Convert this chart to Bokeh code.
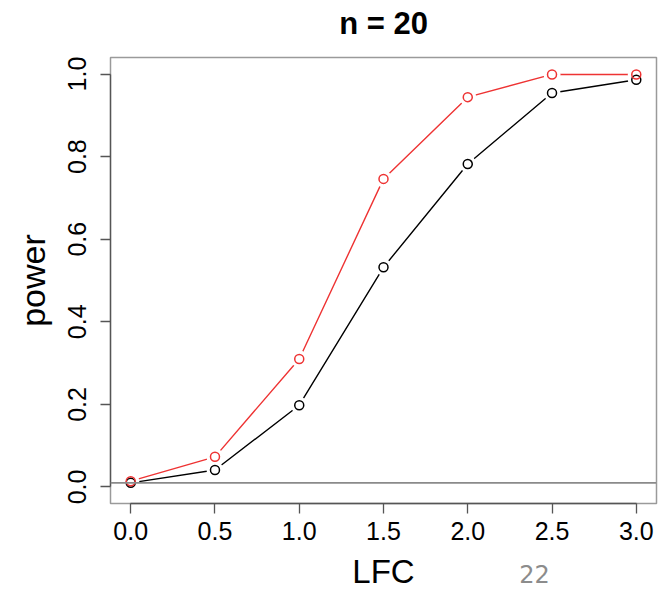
from bokeh.plotting import figure
from bokeh.layouts import column
from bokeh.models import Range1d, FixedTicker, Label, Span, LinearAxis
from bokeh.embed import file_html
from bokeh.resources import INLINE

# ---- data ----
lfc = [0.0, 0.5, 1.0, 1.5, 2.0, 2.5, 3.0]
power_red = [0.014, 0.073, 0.310, 0.746, 0.944, 0.999, 0.999]
power_black = [0.010, 0.041, 0.198, 0.532, 0.782, 0.954, 0.986]
alpha_level = 0.01
x_ticks = [0.0, 0.5, 1.0, 1.5, 2.0, 2.5, 3.0]
x_tick_labels = ["0.0", "0.5", "1.0", "1.5", "2.0", "2.5", "3.0"]
y_ticks = [0.0, 0.2, 0.4, 0.6, 0.8, 1.0]
y_tick_labels = ["0.0", "0.2", "0.4", "0.6", "0.8", "1.0"]
title_text = "n = 20"
x_label = "LFC"
y_label = "power"
page_number = "22"

FONT = "Liberation Sans"
W = 658
H_MAIN, H_BOT = 553, 36

p = figure(width=W, height=H_MAIN, output_backend="svg", toolbar_location=None,
           x_range=Range1d(-0.12, 3.12), y_range=Range1d(-0.04, 1.04),
           min_border_left=110, min_border_right=2,
           min_border_top=57, min_border_bottom=50)
p.background_fill_color = "white"
p.border_fill_color = "white"
p.outline_line_color = "#9a9a9a"
p.outline_line_width = 1.5
p.grid.visible = False

x_ax = p.below[0]
y_ax = p.left[0]

# axes
for ax, ticks, labels in ((x_ax, x_ticks, x_tick_labels),
                          (y_ax, y_ticks, y_tick_labels)):
    ax.ticker = FixedTicker(ticks=ticks)
    ax.major_label_overrides = {t: l for t, l in zip(ticks, labels)}
    ax.bounds = (ticks[0], ticks[-1])
    ax.axis_line_color = "#555555"
    ax.axis_line_width = 1.3
    ax.major_tick_line_color = "#555555"
    ax.major_tick_line_width = 1.3
    ax.major_tick_out = 10
    ax.major_tick_in = 0
    ax.minor_tick_line_color = None
    ax.major_label_text_font = FONT
    ax.major_label_text_font_size = "25px"
    ax.major_label_text_color = "black"
x_ax.major_label_standoff = 8
y_ax.major_label_standoff = 14
y_ax.major_label_orientation = "vertical"
y_ax.axis_label = y_label
y_ax.axis_label_text_font = FONT
y_ax.axis_label_text_font_size = "34px"
y_ax.axis_label_text_font_style = "normal"
y_ax.axis_label_text_color = "black"
y_ax.axis_label_standoff = 14

# title as the label of an otherwise empty top axis, centred on the frame
top_axis = LinearAxis(ticker=FixedTicker(ticks=[]), axis_line_color=None,
                      major_tick_line_color=None, minor_tick_line_color=None,
                      major_label_standoff=0, major_tick_out=0, major_tick_in=0,
                      axis_label=title_text, axis_label_standoff=17,
                      axis_label_text_font=FONT, axis_label_text_font_size="31px",
                      axis_label_text_font_style="bold",
                      axis_label_text_color="black")
p.add_layout(top_axis, "above")

# lines
p.line(lfc, power_black, line_color="black", line_width=1.4)
p.line(lfc, power_red, line_color="#ee3333", line_width=1.4)
# gaps around points (type = "b")
for ys in (power_black, power_red):
    p.scatter(lfc, ys, size=17, fill_color="white", line_color=None)
# open circles
p.scatter(lfc, power_black, size=9, fill_color=None, line_color="black", line_width=1.5)
p.scatter(lfc, power_red, size=9, fill_color=None, line_color="#ee3333", line_width=1.5)

# reference line
p.add_layout(Span(location=alpha_level, dimension="width",
                  line_color="#8a8a8a", line_width=1.6))

# bottom strip: x label and page number
pb = figure(width=W, height=H_BOT, output_backend="svg", toolbar_location=None,
            x_range=Range1d(0, 1), y_range=Range1d(0, 1),
            min_border_left=0, min_border_right=0, min_border_top=0,
            min_border_bottom=0)
pb.axis.visible = False
pb.grid.visible = False
pb.outline_line_color = None
pb.background_fill_color = "white"
pb.border_fill_color = "white"
pb.add_layout(Label(x=273, y=1, x_units="screen", y_units="data", y_offset=-18,
                    text=x_label, text_font=FONT, text_font_size="33px",
                    text_align="center", text_baseline="middle",
                    text_color="black"))
pb.add_layout(Label(x=424, y=1, x_units="screen", y_units="data", y_offset=-20,
                    text=page_number, text_font="DejaVu Sans", text_font_size="24px",
                    text_align="center", text_baseline="middle",
                    text_color="#8c8c8c"))

layout = column(p, pb, spacing=0)
open("out.html", "w").write(file_html(layout, INLINE))
